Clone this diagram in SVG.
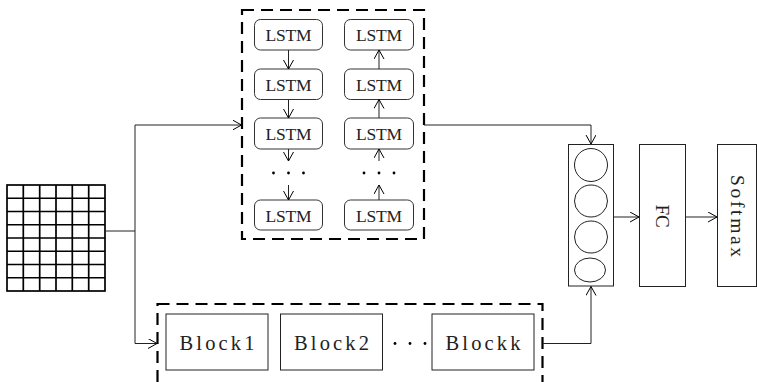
<svg xmlns="http://www.w3.org/2000/svg" width="757" height="382" viewBox="0 0 757 382">
<defs>
<marker id="arr" markerUnits="userSpaceOnUse" markerWidth="12" markerHeight="12" refX="9" refY="5" orient="auto">
<path d="M0,0 L9,5 L0,10" fill="none" stroke="#000" stroke-width="1"/>
</marker>
<style>
.lstm{fill:#fff;stroke:#333;stroke-width:1}
.box{fill:#fff;stroke:#222;stroke-width:1}
.dash{fill:none;stroke:#000;stroke-width:2.2;stroke-dasharray:12 7}
.t{font-family:"Liberation Serif","DejaVu Serif",serif;fill:#222;text-anchor:middle}
.conn{fill:none;stroke:#222;stroke-width:1;marker-end:url(#arr)}
.grid{fill:none;stroke:#000;stroke-width:1.7}
.dot{fill:#000}
</style>
</defs>
<rect width="757" height="382" fill="#fff"/>

<g id="input">
<rect class="grid" x="7" y="185" width="98" height="106"/>
<path class="grid" d="M23.3,185V291M39.7,185V291M56,185V291M72.3,185V291M88.7,185V291M7,198.25H105M7,211.5H105M7,224.75H105M7,238H105M7,251.25H105M7,264.5H105M7,277.75H105"/>
</g>

<g id="lstm-group">
<rect class="dash" x="242" y="10" width="182" height="229"/>
<g id="lstm-l1"><rect class="lstm" x="254.5" y="19.5" width="68" height="30.5" rx="6"/><text class="t" x="288.5" y="41" font-size="17.5" textLength="46" lengthAdjust="spacing">LSTM</text></g>
<g id="lstm-l2"><rect class="lstm" x="254.5" y="69" width="68" height="30.5" rx="6"/><text class="t" x="288.5" y="90.5" font-size="17.5" textLength="46" lengthAdjust="spacing">LSTM</text></g>
<g id="lstm-l3"><rect class="lstm" x="254.5" y="118" width="68" height="31" rx="6"/><text class="t" x="288.5" y="140" font-size="17.5" textLength="46" lengthAdjust="spacing">LSTM</text></g>
<g id="lstm-l4"><rect class="lstm" x="254.5" y="200" width="68" height="30" rx="6"/><text class="t" x="288.5" y="221.5" font-size="17.5" textLength="46" lengthAdjust="spacing">LSTM</text></g>
<g id="lstm-r1"><rect class="lstm" x="344.5" y="19.5" width="69" height="30.5" rx="6"/><text class="t" x="379" y="41" font-size="17.5" textLength="46" lengthAdjust="spacing">LSTM</text></g>
<g id="lstm-r2"><rect class="lstm" x="344.5" y="69" width="69" height="30.5" rx="6"/><text class="t" x="379" y="90.5" font-size="17.5" textLength="46" lengthAdjust="spacing">LSTM</text></g>
<g id="lstm-r3"><rect class="lstm" x="344.5" y="118" width="69" height="31" rx="6"/><text class="t" x="379" y="140" font-size="17.5" textLength="46" lengthAdjust="spacing">LSTM</text></g>
<g id="lstm-r4"><rect class="lstm" x="344.5" y="200" width="69" height="30" rx="6"/><text class="t" x="379" y="221.5" font-size="17.5" textLength="46" lengthAdjust="spacing">LSTM</text></g>
<g id="dots-l"><circle class="dot" cx="273.5" cy="173" r="1.4"/><circle class="dot" cx="288.5" cy="173" r="1.4"/><circle class="dot" cx="303.5" cy="173" r="1.4"/></g>
<g id="dots-r"><circle class="dot" cx="364" cy="173" r="1.4"/><circle class="dot" cx="379" cy="173" r="1.4"/><circle class="dot" cx="394" cy="173" r="1.4"/></g>
</g>

<g id="cnn-group">
<rect class="dash" x="157.5" y="304" width="385" height="110"/>
<g id="block1"><rect class="box" x="166" y="314" width="102" height="56"/><text class="t" x="217" y="350" font-size="20.5" textLength="75" lengthAdjust="spacing">Block1</text></g>
<g id="block2"><rect class="box" x="280.5" y="314" width="102" height="56"/><text class="t" x="331.5" y="350" font-size="20.5" textLength="75" lengthAdjust="spacing">Block2</text></g>
<g id="blockk"><rect class="box" x="432" y="314" width="102" height="56"/><text class="t" x="483" y="350" font-size="20.5" textLength="75" lengthAdjust="spacing">Blockk</text></g>
<g id="dots-b"><circle class="dot" cx="395" cy="343.5" r="1.4"/><circle class="dot" cx="410" cy="343.5" r="1.4"/><circle class="dot" cx="425" cy="343.5" r="1.4"/></g>
</g>

<g id="concat">
<rect class="box" x="568.5" y="144.5" width="45" height="141.5"/>
<ellipse cx="591" cy="165" rx="16.5" ry="16.5" fill="none" stroke="#222"/>
<ellipse cx="591" cy="201" rx="16.5" ry="16" fill="none" stroke="#222"/>
<ellipse cx="591" cy="237" rx="16.5" ry="16" fill="none" stroke="#222"/>
<ellipse cx="590" cy="270" rx="15.5" ry="12" fill="none" stroke="#222"/>
</g>

<g id="fc">
<rect class="box" x="639.5" y="144.5" width="46" height="142"/>
<text class="t" font-size="19" transform="translate(662,216) rotate(90)" y="6.5">FC</text>
</g>

<g id="softmax">
<rect class="box" x="717.5" y="144.5" width="39" height="142"/>
<text class="t" font-size="19.5" transform="translate(737,216) rotate(90)" y="6.5" textLength="82" lengthAdjust="spacing">Softmax</text>
</g>

<g id="connectors">
<path class="conn" d="M105,231H135V125H241.5"/>
<path class="conn" d="M135,231V343.5H157"/>
<path class="conn" d="M424,125H591V144"/>
<path class="conn" d="M542.5,343.5H591V286.5"/>
<path class="conn" d="M613.5,217H639"/>
<path class="conn" d="M685.5,217H717"/>
<path class="conn" d="M288.5,50V69"/>
<path class="conn" d="M288.5,99.5V118"/>
<path class="conn" d="M288.5,149V161"/>
<path class="conn" d="M288.5,185V200"/>
<path class="conn" d="M379,69V50"/>
<path class="conn" d="M379,118V99.5"/>
<path class="conn" d="M379,161V149"/>
<path class="conn" d="M379,200V185"/>
</g>
</svg>
